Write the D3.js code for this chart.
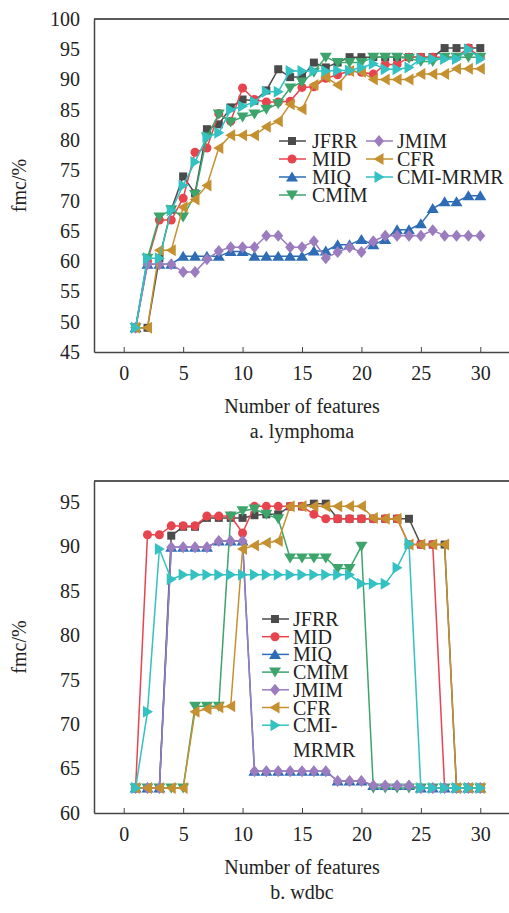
<!DOCTYPE html>
<html>
<head>
<meta charset="utf-8">
<script src="https://cdn.jsdelivr.net/npm/d3@7"></script>
<style>
  body { margin: 0; background: #fff; }
  svg { display: block; font-family: "Liberation Serif", "Times New Roman", serif; }
</style>
</head>
<body>
<svg id="chart" width="509" height="913"></svg>
<script>
/* shared categories */
const methods = ["JFRR", "MID", "MIQ", "CMIM", "JMIM", "CFR", "CMI-MRMR"];
const featureCounts = d3.range(1, 31);
const xTicks = [0, 5, 10, 15, 20, 25, 30];

/* a. lymphoma, fmc/% per number of features (1..30) */
const lymJFRR = [49,49,60.5,68.5,74,71.2,81.8,82.6,85.4,86.7,86.5,88.2,91.7,90.4,90.4,92.8,92,92.8,93.7,93.7,93.7,93.7,93.7,93.7,93.7,93.7,95.2,95.2,95.2,95.2];
const lymMID = [49,60,66.8,66.8,70.4,78,78.7,84.4,83.1,88.6,86.7,86.3,86.3,86.4,88.7,88.8,90.2,90.8,91.4,91.2,90.9,92.5,92.5,93.7,93.7,93.7,93.7,93.7,95.2,93.7];
const lymMIQ = [49,59.5,59.5,59.5,60.8,60.8,60.8,60.8,61.6,61.6,60.8,60.8,60.8,60.8,60.8,61.7,61.7,62.7,62.7,63.6,62.7,63.6,65.2,65.2,66.2,68.7,69.8,69.8,70.8,70.8];
const lymCMIM = [49,60.5,67.3,68.5,67.3,71,80.5,84.3,83,83.8,84.3,85.1,86,88.6,89.6,91.2,93.7,92.8,92.8,92.8,93.7,93.7,93.7,93.5,93,93,93.7,93.7,93.7,93.7];
const lymJMIM = [49,59.5,59.5,59.5,58.2,58.2,60.3,61.7,62.3,62.3,62.3,64.2,64.2,62.3,62.3,63.3,60.5,61.5,62.3,61.5,63.3,64.2,64.2,64.2,64.2,65.1,64.2,64.2,64.2,64.2];
const lymCFR = [49,49,61.8,61.8,68.9,70.2,72.5,78.7,80.8,80.8,80.8,82.2,83.1,85.9,85.1,89.1,90.4,89.1,91.4,91.3,90,90,90,90,90.9,90.9,90.9,91.8,91.8,91.8];
const lymCMIMRMR = [49,60.5,60.5,68.4,72.5,76.4,80.5,81.2,85,85.6,86.3,88,88,91.4,91.4,91.4,91.4,91.5,91.5,92,92.6,91.7,91.7,92,93.4,93.4,93.4,93.4,95,93.4];
const lymYTicks = [45, 50, 55, 60, 65, 70, 75, 80, 85, 90, 95, 100];

/* b. wdbc */
const wdbcJFRR = [62.8,62.8,62.8,91.2,92.2,92.2,93.2,93.2,93.2,93.2,93.5,93.6,93.6,94.5,94.5,94.8,94.8,93.1,93.1,93.1,93.1,93.1,93.1,93.1,90.2,90.2,90.2,62.8,62.8,62.8];
const wdbcMID = [62.8,91.3,91.3,92.3,92.3,92.3,93.4,93.4,93.4,91.5,94.5,94.5,94.5,94.5,94.5,93.6,93.1,93.1,93.1,93.1,93.1,93.1,93.1,90.2,90.2,90.2,62.8,62.8,62.8,62.8];
const wdbcMIQ = [62.8,62.8,62.8,89.9,89.9,89.9,89.9,90.6,90.6,90.6,64.7,64.7,64.7,64.7,64.7,64.7,64.7,63.6,63.6,63.6,63.1,63.1,63.1,63.1,62.8,62.8,62.8,62.8,62.8,62.8];
const wdbcCMIM = [62.8,62.8,62.8,62.8,62.8,72,72,72,93.4,94,94.2,93.6,93.1,88.7,88.7,88.7,88.7,87.5,87.5,90,62.8,62.8,62.8,62.8,62.8,62.8,62.8,62.8,62.8,62.8];
const wdbcJMIM = [62.8,62.8,62.8,89.9,89.9,89.9,89.9,90.6,90.6,90.6,64.7,64.7,64.7,64.7,64.7,64.7,64.7,63.6,63.6,63.6,63.1,63.1,63.1,63.1,62.8,62.8,62.8,62.8,62.8,62.8];
const wdbcCFR = [62.8,62.8,62.8,62.8,62.8,71.4,71.7,71.9,72,89.7,90.1,90.4,90.6,94.5,94.5,94.5,94.5,94.5,94.5,94.5,93.2,93.1,93.1,90.2,90.2,90.2,90.2,62.8,62.8,62.8];
const wdbcCMIMRMR = [62.8,71.4,89.7,86.3,86.8,86.8,86.8,86.8,86.8,86.8,86.8,86.8,86.8,86.8,86.8,86.8,86.8,86.8,86.8,85.8,85.8,85.8,87.6,90.3,62.8,62.8,62.8,62.8,62.8,62.8];
const wdbcYTicks = [60, 65, 70, 75, 80, 85, 90, 95];

const colors = {
  "JFRR": "#4b4b4b", "MID": "#e8444e", "MIQ": "#2e6db6", "CMIM": "#3da46c",
  "JMIM": "#9b7cbf", "CFR": "#c59130", "CMI-MRMR": "#33c1c1"
};

/* marker path centred at 0,0 */
function markerPath(name) {
  switch (name) {
    case "JFRR": return "M-4,-4H4V4H-4Z";
    case "MID": return d3.symbol(d3.symbolCircle, 64)();
    case "MIQ": return "M0,-5.5L6,4.5L-6,4.5Z";
    case "CMIM": return "M0,5.5L6,-4.5L-6,-4.5Z";
    case "JMIM": return "M0,-6L5,0L0,6L-5,0Z";
    case "CFR": return "M-5.5,0L4.5,-6L4.5,6Z";
    default: return "M5.5,0L-4.5,-6L-4.5,6Z";
  }
}

const svg = d3.select("#chart");

function drawPanel(p) {
  const x = d3.scaleLinear().domain([-2.5, 32.5]).range([94, 510]);
  const y = d3.scaleLinear().domain(p.yDomain).range([p.bottom, p.top]);
  const g = svg.append("g");

  /* frame: top line + left and bottom axes */
  g.append("line").attr("x1", 94).attr("x2", 509).attr("y1", p.top).attr("y2", p.top)
    .attr("stroke", "#222").attr("stroke-width", 1.5);

  const xAxis = g.append("g").attr("transform", `translate(0,${p.bottom})`)
    .call(d3.axisBottom(x).tickValues(xTicks).tickSizeInner(-5).tickSizeOuter(0).tickPadding(14));
  xAxis.select(".domain").attr("stroke", "#444").attr("stroke-width", 1.5);
  xAxis.selectAll(".tick line").attr("stroke", "#444");
  xAxis.selectAll("text").attr("font-size", 20).attr("fill", "#222").attr("font-family", "Liberation Serif");

  const yAxis = g.append("g").attr("transform", "translate(94,0)")
    .call(d3.axisLeft(y).tickValues(p.yTicks).tickSize(0).tickPadding(14));
  yAxis.select(".domain").attr("stroke", "#444").attr("stroke-width", 1.5);
  yAxis.selectAll("text").attr("font-size", 20).attr("fill", "#222").attr("font-family", "Liberation Serif");

  g.append("text").attr("transform", `translate(26,${(p.top + p.bottom) / 2}) rotate(-90)`)
    .attr("text-anchor", "middle").attr("font-size", 20).attr("fill", "#222").text("fmc/%");
  g.append("text").attr("x", 302).attr("y", p.bottom + 61).attr("text-anchor", "middle")
    .attr("font-size", 20).attr("fill", "#222").text("Number of features");
  g.append("text").attr("x", 302).attr("y", p.bottom + 86).attr("text-anchor", "middle")
    .attr("font-size", 20).attr("fill", "#222").text(p.caption);

  const line = d3.line().x(d => x(d.n)).y(d => y(d.v));
  methods.forEach((m, i) => {
    const rows = featureCounts.map((n, j) => ({ n, v: p.series[i][j] }));
    g.append("path").datum(rows).attr("fill", "none").attr("stroke", colors[m])
      .attr("stroke-width", 1.5).attr("d", line);
    g.selectAll(null).data(rows).join("path")
      .attr("transform", d => `translate(${x(d.n)},${y(d.v)})`)
      .attr("d", markerPath(m)).attr("fill", colors[m]);
  });

  /* legend */
  p.legend.forEach((it, i) => {
    const row = g.append("g").attr("transform", `translate(${it.x},${it.y})`);
    row.append("line").attr("x1", -13).attr("x2", 14).attr("stroke", colors[it.m]).attr("stroke-width", 1.5);
    row.append("path").attr("d", markerPath(it.m)).attr("fill", colors[it.m]);
    it.label.forEach((t, k) => {
      row.append("text").attr("x", it.tx).attr("y", 7 + k * 25).attr("font-size", 20)
        .attr("fill", "#222").text(t);
    });
  });
}

drawPanel({
  top: 19, bottom: 352, yDomain: [45, 100], yTicks: lymYTicks, caption: "a. lymphoma",
  series: [lymJFRR, lymMID, lymMIQ, lymCMIM, lymJMIM, lymCFR, lymCMIMRMR],
  legend: [
    { m: "JFRR", x: 292, y: 141, tx: 20, label: ["JFRR"] },
    { m: "MID", x: 292, y: 159, tx: 20, label: ["MID"] },
    { m: "MIQ", x: 292, y: 177, tx: 20, label: ["MIQ"] },
    { m: "CMIM", x: 292, y: 195, tx: 20, label: ["CMIM"] },
    { m: "JMIM", x: 379, y: 141, tx: 18, label: ["JMIM"] },
    { m: "CFR", x: 379, y: 159, tx: 18, label: ["CFR"] },
    { m: "CMI-MRMR", x: 379, y: 177, tx: 18, label: ["CMI-MRMR"] }
  ]
});

drawPanel({
  top: 481, bottom: 813, yDomain: [60, 97.35], yTicks: wdbcYTicks, caption: "b. wdbc",
  series: [wdbcJFRR, wdbcMID, wdbcMIQ, wdbcCMIM, wdbcJMIM, wdbcCFR, wdbcCMIMRMR],
  legend: methods.map((m, i) => ({
    m, x: 275, y: 619 + i * 17.7, tx: 18, label: m === "CMI-MRMR" ? ["CMI-", "MRMR"] : [m]
  }))
});
</script>
</body>
</html>
